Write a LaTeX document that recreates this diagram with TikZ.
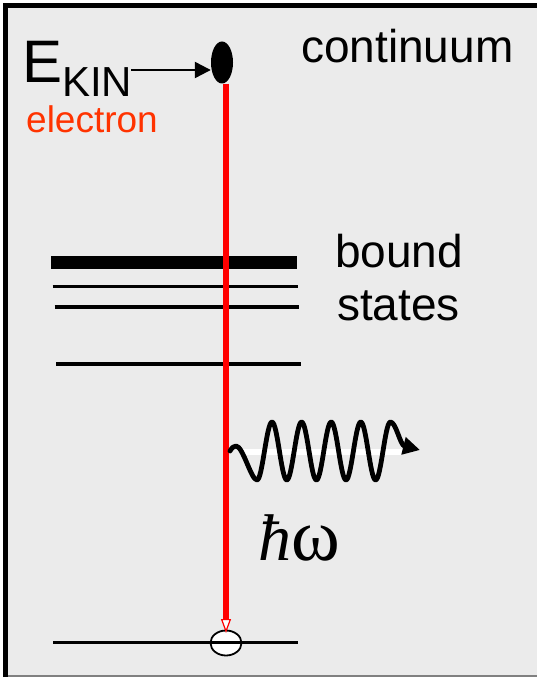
\documentclass[tikz,border=0pt]{standalone}
\usepackage{fontspec}
\setmainfont{Liberation Sans}
\newfontfamily\serifw{Liberation Serif}
\usetikzlibrary{arrows.meta,shapes.geometric}
\definecolor{bgc}{RGB}{235,235,235}
\definecolor{elred}{RGB}{255,51,0}
\begin{document}
\begin{tikzpicture}[x=1pt,y=-1pt,
  level/.style={line width=3.5pt, black},
  thicklevel/.style={line width=13.3pt, black},
  lbl/.style={anchor=base west, inner sep=0pt, font=\fontsize{46}{50}\selectfont},
  redline/.style={red, line width=5.5pt},
  wave/.style={line width=4.8pt, line cap=round, line join=round},
  ptr/.style={line width=2.3pt, -{Triangle[length=16pt,width=16pt]}}
]
\useasboundingbox (0,0) rectangle (537,679);
% frame
\fill[white] (0,0) rectangle (537,679);
\fill[bgc] (3.3,3.3) rectangle (537,676);
\draw[gray, line width=2pt] (3.3,676) -- (537,676);
\draw[line width=5pt] (5.8,677) -- (5.8,5.8) -- (537,5.8);

% bound states
\draw[thicklevel] (51,262.3) -- (297,262.3);
\draw[level] (52.7,286.3) -- (298,286.3);
\draw[level] (54.7,307) -- (299.3,307);
\draw[level] (56,364) -- (300.7,364);

% ground state with hole
\node[draw, ellipse, fill=white, line width=1.8pt, minimum width=31pt, minimum height=25pt, inner sep=0pt] (hole) at (226,643) {};
\draw[line width=3pt] (53,642.5) -- (298,642.5);

% electron
\node[ellipse, fill=black, minimum width=22pt, minimum height=42pt, inner sep=0pt] (el) at (222,62.5) {};
\draw[redline, -{Triangle[length=14pt,width=10pt,fill=white,line width=1.2pt 0]}]
  (el.south -| hole.north) -- ([yshift=-3.4pt]hole.north);

% labels
\node[anchor=base west, inner sep=0pt, font=\fontsize{60}{60}\selectfont] (ekin) at (22,83) {E};
\node[anchor=base west, inner sep=0pt, text depth=0pt, font=\fontsize{42}{42}\selectfont] (kin) at (62,97) {KIN};
\coordinate (a0) at (131,70);
\draw[ptr] (a0) -- (a0 -| el.west);
\node[lbl, text=elred, text height=26pt, font=\fontsize{37}{40}\selectfont] (elec) at (26,133) {electron};
\node[lbl] (cont) at (301,63) {continuum};
\node[lbl] (bound) at (335,267) {bound};
\node[lbl] (states) at (337,320) {states};

% photon
\fill[white] (240,449) rectangle (403,455);
\draw[wave, -{Triangle[length=17pt,width=17pt]}]
  (230,451) .. controls (232,448) and (233,446) .. (236,446)
  .. controls (243,446) and (251,480) .. (257,480)
  .. controls (262.4,480) and (266.6,422) .. (272,422)
  .. controls (277.4,422) and (281.4,480) .. (286.8,480)
  .. controls (292.2,480) and (296.2,422) .. (301.6,422)
  .. controls (307,422) and (311,480) .. (316.4,480)
  .. controls (321.8,480) and (325.8,422) .. (331.2,422)
  .. controls (336.6,422) and (340.6,480) .. (346,480)
  .. controls (351.4,480) and (355.4,422) .. (360.8,422)
  .. controls (366.2,422) and (370.2,480) .. (375.6,480)
  .. controls (381,480) and (385,422) .. (390.4,422)
  .. controls (396,422) and (400,445) .. (420,450);
\node[anchor=base west, inner sep=0pt, font=\serifw] (hw) at (258,560)
  {{\fontsize{66}{66}\selectfont\itshape ħ}{\fontsize{74}{74}\selectfont ω}};
\end{tikzpicture}
\end{document}
